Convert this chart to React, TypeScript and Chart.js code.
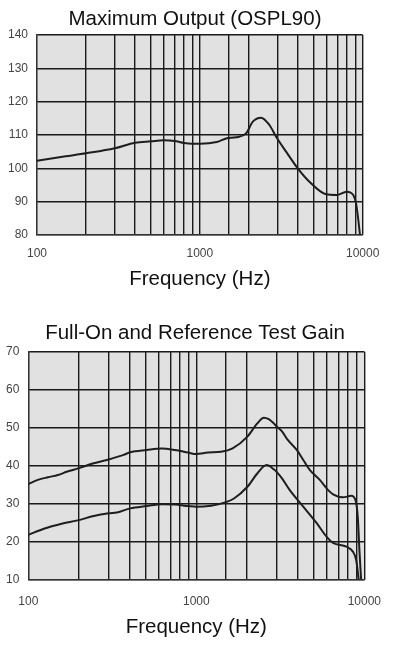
import React, { useEffect, useRef } from "react";
import { Chart, registerables } from "chart.js";

Chart.register(...registerables);

// ---- Data ----
const osplFreq = [100, 150, 200, 300, 400, 500, 600, 700, 800, 900, 1000, 1270, 1465, 1670, 1923, 2114, 2377, 2673, 2940, 3386, 3991, 4705, 5957, 6919, 7980, 8752, 9099, 9400, 9621];
const osplValues = [102.3, 103.6, 104.5, 106.0, 107.7, 108.1, 108.4, 108.2, 107.6, 107.4, 107.4, 107.9, 109.0, 109.3, 110.5, 114.0, 115.2, 113.0, 109.5, 105.0, 100.0, 96.0, 92.2, 92.0, 93.0, 92.0, 89.5, 84.5, 80.0];

const fullOnFreq = [100, 114, 131, 150, 171, 200, 245, 301, 369, 404, 506, 622, 746, 894, 1000, 1172, 1403, 1644, 2014, 2307, 2525, 2700, 2891, 3024, 3236, 3463, 3963, 4341, 4746, 5433, 6093, 6517, 7464, 8356, 8851, 9142, 9350, 9568];
const fullOnGain = [35.1, 36.2, 36.9, 37.5, 38.4, 39.3, 40.6, 41.6, 42.8, 43.5, 44.1, 44.5, 44.1, 43.4, 43.0, 43.4, 43.6, 44.5, 47.6, 51.1, 52.6, 52.2, 51.1, 50.2, 49.0, 47.0, 44.1, 41.4, 38.8, 36.2, 33.5, 32.4, 31.6, 32.0, 30.9, 26.5, 17.7, 10.0];

const refFreq = [100, 125, 156, 200, 245, 301, 337, 404, 506, 622, 746, 894, 1000, 1225, 1467, 1676, 2014, 2307, 2620, 2891, 3024, 3236, 3601, 4341, 5208, 5968, 6517, 7830, 8551, 8945, 9270];
const refTestGain = [21.7, 23.4, 24.6, 25.6, 26.7, 27.4, 27.6, 28.7, 29.3, 29.8, 29.7, 29.3, 29.1, 29.4, 30.2, 31.3, 34.4, 37.9, 40.1, 39.0, 38.2, 36.6, 33.5, 29.1, 24.8, 21.2, 19.6, 18.6, 17.3, 15.1, 9.8];

const xLabeled = [100, 1000, 10000];
const osplYTicks = { min: 80, max: 140, step: 10 };
const gainYTicks = { min: 10, max: 70, step: 10 };

const FONT = "'Liberation Sans', Arial, sans-serif";

const bgPlugin = {
  id: "plotBg",
  beforeDraw(chart: any) {
    const { ctx, chartArea } = chart;
    if (!chartArea) return;
    ctx.save();
    ctx.fillStyle = "#e1e1e1";
    ctx.fillRect(chartArea.left, chartArea.top, chartArea.right - chartArea.left, chartArea.bottom - chartArea.top);
    ctx.restore();
  },
};

function makeSeries(xs: number[], ys: number[]) {
  return xs.map((x, i) => ({ x, y: ys[i] }));
}

function buildConfig(opts: {
  title: string;
  datasets: { xs: number[]; ys: number[] }[];
  yt: { min: number; max: number; step: number };
  yWidth: number;
  xHeight: number;
  rightWidth: number;
  titlePadTop: number;
  titlePadBottom: number;
  xTickPad: number;
}): any {
  return {
    type: "line",
    data: {
      datasets: opts.datasets.map((d) => ({
        data: makeSeries(d.xs, d.ys),
        borderColor: "#1e1e1e",
        borderWidth: 2,
        pointRadius: 0,
        fill: false,
        cubicInterpolationMode: "monotone",
        xAxisID: "x",
        yAxisID: "y",
      })),
    },
    options: {
      responsive: false,
      animation: false,
      devicePixelRatio: 1,
      layout: { padding: { left: 0, right: 6, top: 0, bottom: 0 } },
      plugins: {
        legend: { display: false },
        tooltip: { enabled: false },
        title: {
          display: true,
          text: opts.title,
          color: "#111",
          font: { family: FONT, size: 20.5, weight: "normal" },
          padding: { top: opts.titlePadTop, bottom: opts.titlePadBottom },
        },
      },
      scales: {
        x: {
          type: "logarithmic",
          min: 100,
          max: 10000,
          afterFit: (s: any) => {
            s.height = opts.xHeight;
          },
          grid: { color: "#1a1a1a", lineWidth: 1.4, drawTicks: false },
          border: { display: true, color: "#333", width: 1.2 },
          ticks: {
            autoSkip: false,
            maxRotation: 0,
            padding: opts.xTickPad,
            color: "#444",
            font: { family: FONT, size: 12 },
            callback: (v: any) => (xLabeled.includes(Number(v)) ? String(v) : ""),
          },
          title: {
            display: true,
            text: "Frequency (Hz)",
            color: "#111",
            font: { family: FONT, size: 20.5 },
            padding: { top: 0, bottom: 8 },
          },
        },
        y: {
          type: "linear",
          position: "left",
          min: opts.yt.min,
          max: opts.yt.max,
          afterFit: (s: any) => {
            s.width = opts.yWidth;
          },
          grid: { color: "#1a1a1a", lineWidth: 1.4, drawTicks: false },
          border: { display: true, color: "#333", width: 1.2 },
          ticks: {
            stepSize: opts.yt.step,
            padding: 9,
            color: "#444",
            font: { family: FONT, size: 12 },
          },
        },
        yRight: {
          type: "linear",
          position: "right",
          min: 0,
          max: 1,
          afterFit: (s: any) => {
            s.width = opts.rightWidth;
          },
          grid: { display: false, drawTicks: false },
          border: { display: false },
          ticks: { display: false },
        },
      },
    },
    plugins: [bgPlugin],
  };
}

function ChartCanvas({ config, width, height }: { config: any; width: number; height: number }) {
  const ref = useRef<HTMLCanvasElement | null>(null);
  useEffect(() => {
    if (!ref.current) return;
    const chart = new Chart(ref.current, config);
    return () => chart.destroy();
  }, [config]);
  return <canvas ref={ref} width={width} height={height} style={{ display: "block", width, height }} />;
}

const topConfig = buildConfig({
  title: "Maximum Output (OSPL90)",
  datasets: [{ xs: osplFreq, ys: osplValues }],
  yt: osplYTicks,
  yWidth: 37,
  xHeight: 65,
  rightWidth: 27.3,
  titlePadTop: 7.2,
  titlePadBottom: 3.2,
  xTickPad: 11,
});

const bottomConfig = buildConfig({
  title: "Full-On and Reference Test Gain",
  datasets: [
    { xs: fullOnFreq, ys: fullOnGain },
    { xs: refFreq, ys: refTestGain },
  ],
  yt: gainYTicks,
  yWidth: 28.3,
  xHeight: 68.7,
  rightWidth: 21.7,
  titlePadTop: 20.7,
  titlePadBottom: 6.4,
  xTickPad: 15,
});

export default function App() {
  return (
    <div style={{ position: "absolute", top: 0, left: 0, width: 396, height: 648, background: "#fff" }}>
      <ChartCanvas config={topConfig} width={396} height={300} />
      <ChartCanvas config={bottomConfig} width={396} height={348} />
    </div>
  );
}
